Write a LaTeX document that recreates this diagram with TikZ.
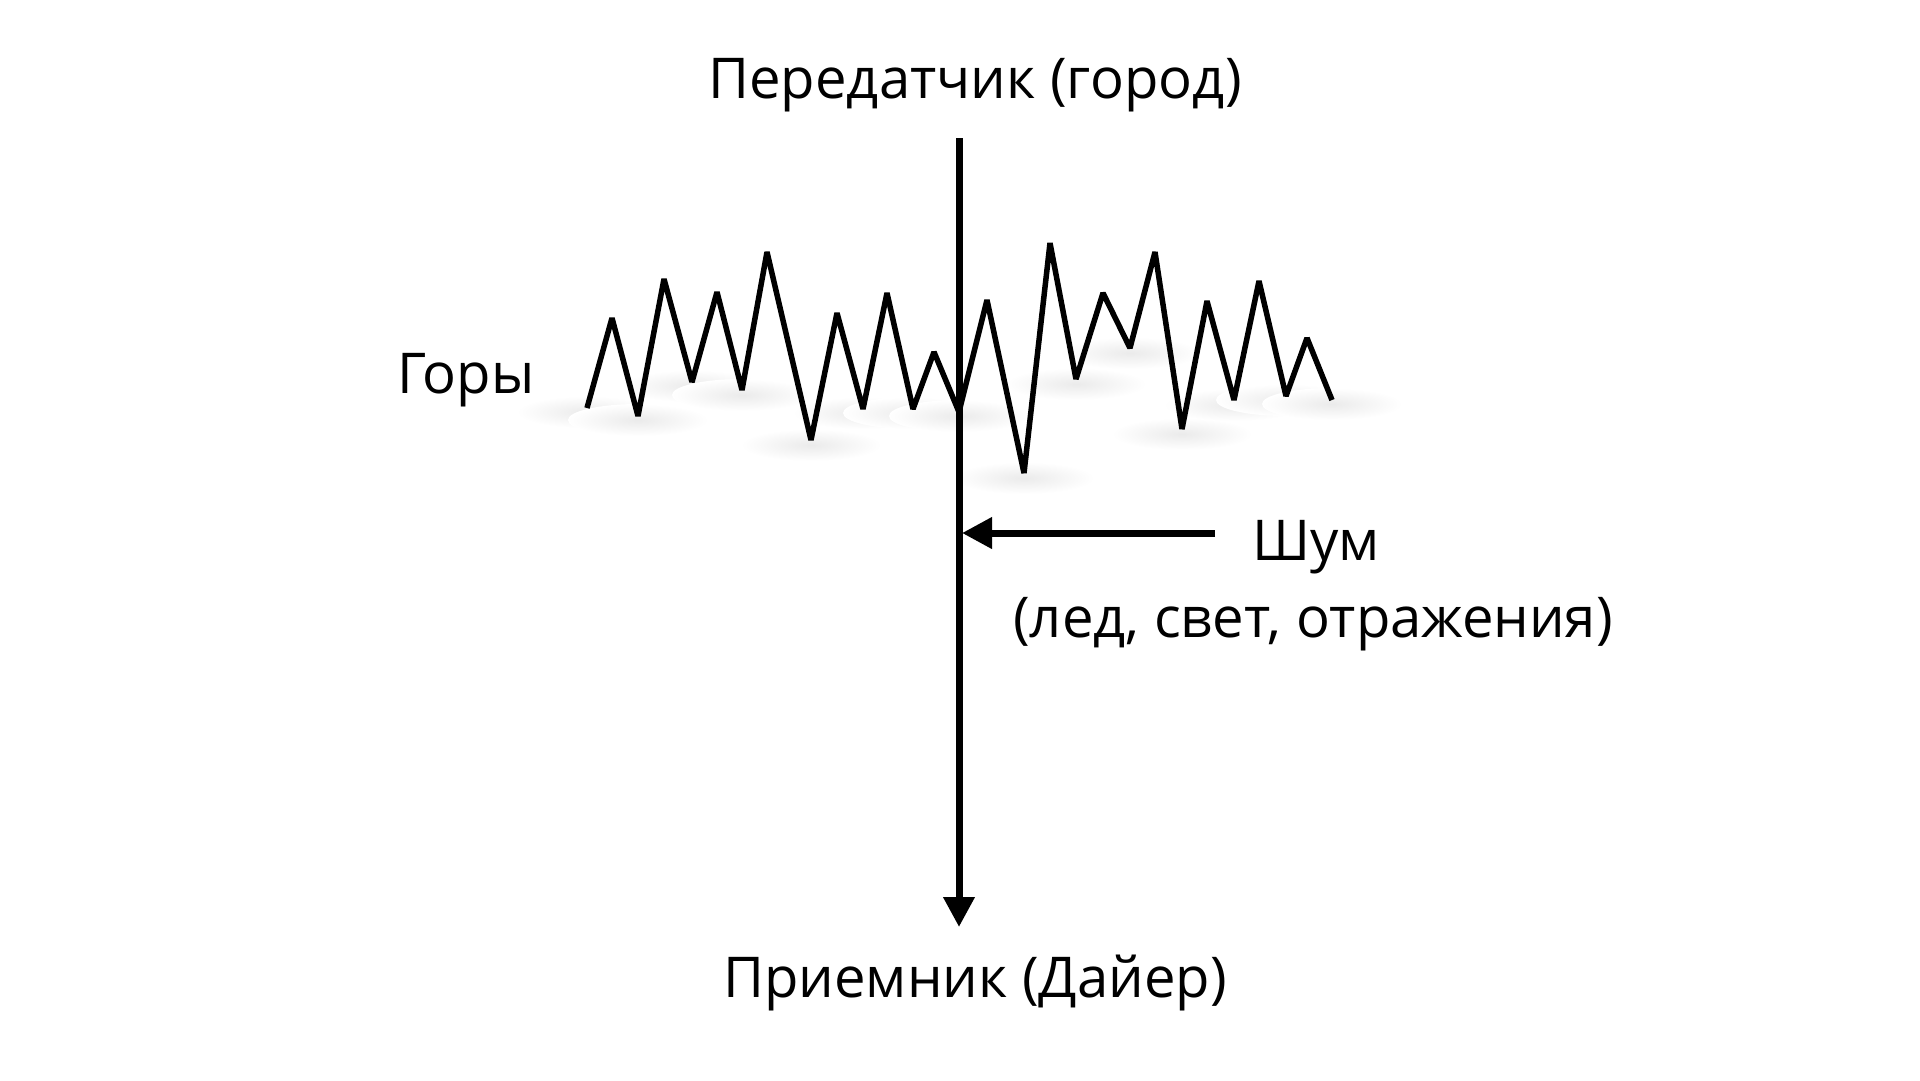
\documentclass[tikz,border=0pt]{standalone}
\usepackage{fontspec}
\setmainfont{Open Sans}
\usetikzlibrary{arrows.meta}
\tikzset{
  lbl/.style={font=\fontsize{16}{19}\selectfont, inner sep=0pt},
  haze/.style={shading=radial, inner color=black!8, outer color=white},
  signal/.style={line width=0.7mm, -{Triangle[length=3mm, width=3mm]}},
}
\begin{document}
\begin{tikzpicture}[x=0.1mm, y=-0.1mm]
    \useasboundingbox (0,0) rectangle (1920,1080);
    % shadows under the mountains
    \foreach \x/\y in {587/412, 638/420, 692/386, 742/395, 811/445, 863/413, 913/413, 959/416,
                       1024/478, 1076/384, 1130/353, 1182/434, 1234/405, 1286/400, 1332/404}
        \shade[haze] (\x,\y) ellipse [x radius=70, y radius=16];
    % mountains
    \draw[line width=0.55mm, line join=bevel]
        (587,408) -- (612,318) -- (638,416) -- (664,279) -- (692,382) -- (717,292)
        -- (742,390) -- (767,252) -- (811,440) -- (837,313) -- (863,409) -- (887,293)
        -- (913,409) -- (934,352) -- (959,412) -- (987,300) -- (1024,473) -- (1050,243)
        -- (1076,379) -- (1103,293) -- (1130,348) -- (1155,252) -- (1182,429) -- (1207,301)
        -- (1234,400) -- (1259,281) -- (1286,396) -- (1307,338) -- (1332,400);
    % labels
    \node[lbl, anchor=base] (tx) at (975,98) {Передатчик (город)};
    \node[lbl, anchor=base] (rx) at (975,997) {Приемник (Дайер)};
    \node[lbl, anchor=base] (hills) at (466,393) {Горы};
    \node[lbl, anchor=base] (noise) at (1316,560) {Шум};
    \node[lbl, anchor=base] (noisewhy) at (1313,637) {(лед, свет, отражения)};
    % signal path
    \coordinate (top) at (959,138);
    \coordinate (bottom) at (959,927);
    \coordinate (noisestart) at (1215,533);
    \coordinate (hit) at (962,533);
    \draw[signal] (top) -- (bottom);
    \draw[signal] (noisestart) -- (hit);
\end{tikzpicture}
\end{document}
